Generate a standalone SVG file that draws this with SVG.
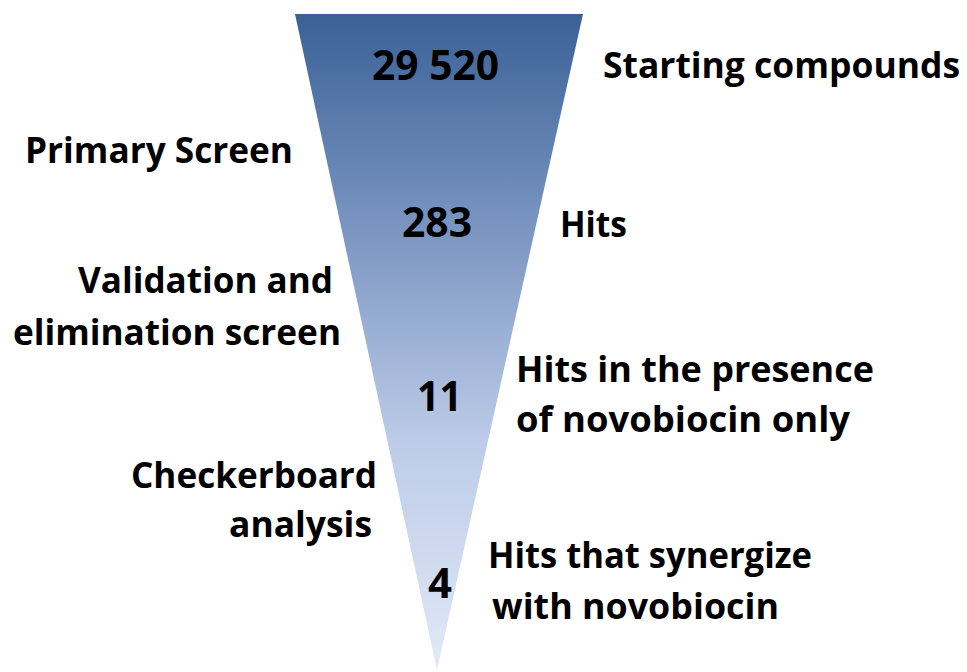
<svg xmlns="http://www.w3.org/2000/svg" width="967" height="672" viewBox="0 0 967 672">
  <style>
    .t { font-family: "Open Sans", "Liberation Sans", sans-serif; font-weight: bold; font-size: 35px; fill: #000; }
    .n { font-size: 41px; }
  </style>
  <defs>
    <linearGradient id="funnelFill" x1="0" y1="14" x2="0" y2="670" gradientUnits="userSpaceOnUse">
      <stop offset="0" stop-color="#3a6196"/>
      <stop offset="0.35" stop-color="#7f99c4"/>
      <stop offset="0.65" stop-color="#bccbe8"/>
      <stop offset="1" stop-color="#e2e9f7"/>
    </linearGradient>
  </defs>
  <rect width="967" height="672" fill="#fff"/>

  <!-- funnel -->
  <g id="funnel">
    <polygon points="295,14 583,14 437,670" fill="url(#funnelFill)"/>
  </g>

  <!-- counts inside the funnel -->
  <g id="count-29520"><text class="t n" x="372" y="80" font-size="44" textLength="127" lengthAdjust="spacingAndGlyphs">29 520</text></g>
  <g id="count-283"><text class="t n" x="402" y="237" textLength="70" lengthAdjust="spacingAndGlyphs">283</text></g>
  <g id="count-11"><text class="t n" x="417" y="411" textLength="45" lengthAdjust="spacingAndGlyphs">11</text></g>
  <g id="count-4"><text class="t n" x="428" y="598" textLength="24" lengthAdjust="spacingAndGlyphs">4</text></g>

  <!-- right-hand labels -->
  <g id="label-start"><text class="t" x="603" y="78" textLength="357" lengthAdjust="spacingAndGlyphs">Starting compounds</text></g>
  <g id="label-hits"><text class="t" x="560" y="237" textLength="67" lengthAdjust="spacingAndGlyphs">Hits</text></g>
  <g id="label-novo-only">
    <text class="t" x="516" y="382" textLength="358" lengthAdjust="spacingAndGlyphs">Hits in the presence</text>
    <text class="t" x="516" y="432" textLength="334" lengthAdjust="spacingAndGlyphs">of novobiocin only</text>
  </g>
  <g id="label-synergy">
    <text class="t" x="488" y="568" textLength="324" lengthAdjust="spacingAndGlyphs">Hits that synergize</text>
    <text class="t" x="492" y="619" textLength="287" lengthAdjust="spacingAndGlyphs">with novobiocin</text>
  </g>

  <!-- left-hand stage labels -->
  <g id="stage-primary"><text class="t" x="25" y="163" textLength="268" lengthAdjust="spacingAndGlyphs">Primary Screen</text></g>
  <g id="stage-validation">
    <text class="t" x="78" y="293" textLength="255" lengthAdjust="spacingAndGlyphs">Validation and</text>
    <text class="t" x="13" y="345" textLength="328" lengthAdjust="spacingAndGlyphs">elimination screen</text>
  </g>
  <g id="stage-checkerboard">
    <text class="t" x="131" y="488" textLength="246" lengthAdjust="spacingAndGlyphs">Checkerboard</text>
    <text class="t" x="229" y="537" textLength="143" lengthAdjust="spacingAndGlyphs">analysis</text>
  </g>

  <g id="connectors"/>
</svg>
